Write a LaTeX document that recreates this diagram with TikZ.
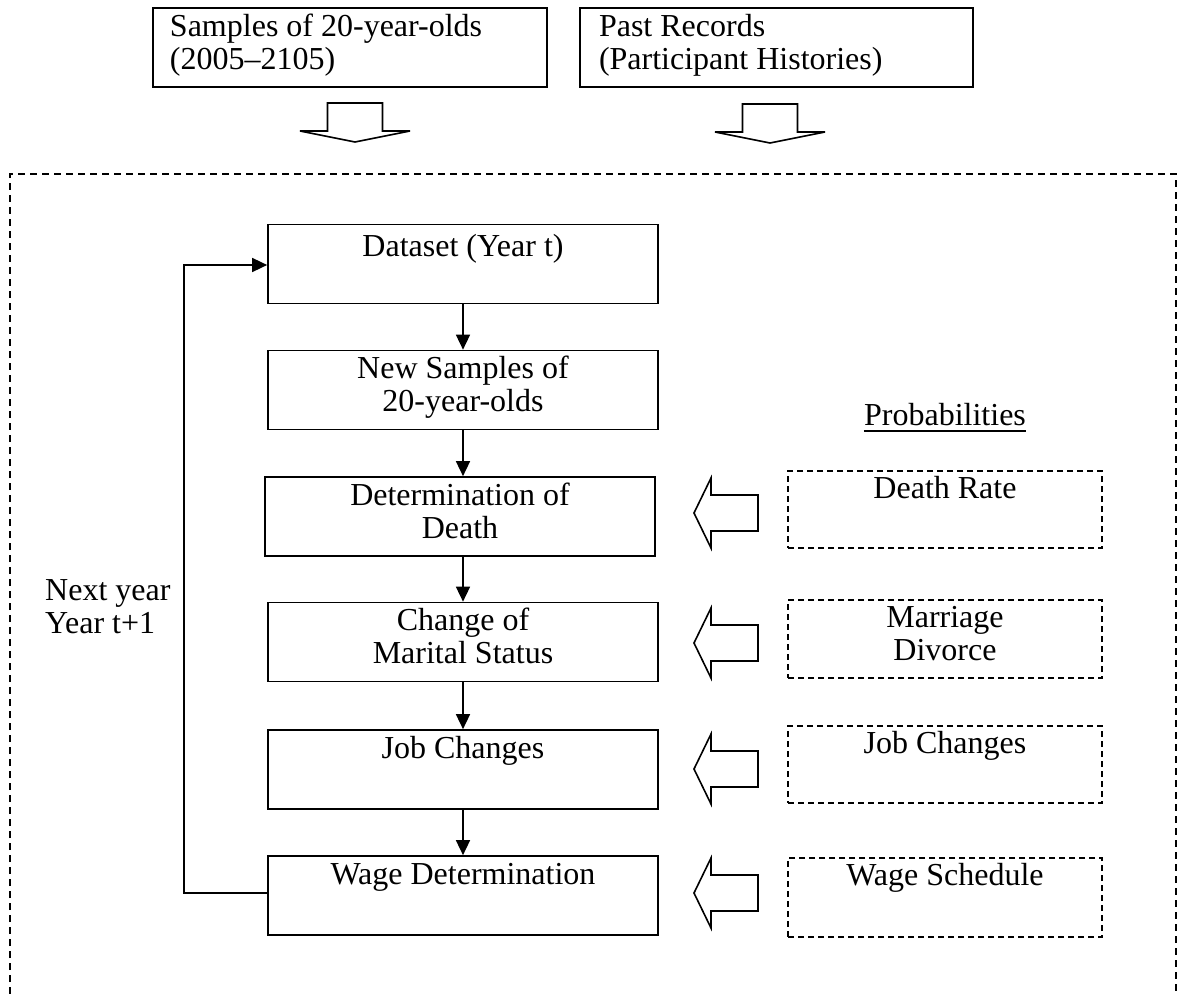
\documentclass[tikz,border=0pt]{standalone}
\usepackage{fontspec}
\setmainfont{Liberation Serif}
\usetikzlibrary{arrows.meta,calc}
\newcommand\ctrbox[4]{\parbox[c][#1][t]{#2}{\centering\rule{0pt}{#3}#4}}
\newcommand\lftbox[4]{\parbox[c][#1][t]{#2}{\raggedright\leftskip=#3\rule{0pt}{28bp}#4}}
\begin{document}
\begin{tikzpicture}[x=1bp,y=-1bp,
  every node/.style={font=\fontsize{32bp}{33bp}\selectfont, inner sep=0pt},
  mainbox/.style={draw, line width=1.7bp},
  dbox/.style={draw, line width=1.4bp, dash pattern=on 6bp off 4bp},
  conn/.style={line width=1.6bp, -{Triangle[length=15bp,width=14bp]}},
  blk/.style={draw, line width=1.6bp, line join=miter, fill=white},
  downblk/.pic={\draw[blk] (0,0) -- (55,-11) -- (27.5,-11) -- (27.5,-39) -- (-27.5,-39) -- (-27.5,-11) -- (-55,-11) -- cycle;},
  leftblk/.pic={\draw[blk] (0,0) -- (17,-35) -- (17,-18) -- (64,-18) -- (64,18) -- (17,18) -- (17,35) -- cycle;}]
\useasboundingbox (0,0) rectangle (1178,994);

% top input boxes
\node[mainbox] (samples) at (350,47.5) {\lftbox{79bp}{394bp}{17bp}{Samples of 20-year-olds\\(2005–2105)}};
\node[mainbox] (past) at (776.5,47.5) {\lftbox{79bp}{393bp}{19bp}{Past Records\\(Participant Histories)}};
\pic at (355,142) {downblk};
\pic at (770,143) {downblk};

% dashed frame (open at bottom)
\draw[line width=1.4bp, dash pattern=on 7bp off 5bp] (10,994) -- (10,174) -- (1176,174) -- (1176,994);

% main flow
\node[mainbox] (dataset) at (463,264) {\ctrbox{79bp}{390bp}{32bp}{Dataset (Year t)}};
\node[mainbox] (newsamp) at (463,390) {\ctrbox{79bp}{390bp}{28bp}{New Samples of\\20-year-olds}};
\node[mainbox] (det) at (460,516.5) {\ctrbox{79bp}{390bp}{28bp}{Determination of\\Death}};
\node[mainbox] (change) at (463,642) {\ctrbox{79bp}{390bp}{28bp}{Change of\\Marital Status}};
\node[mainbox] (job) at (463,769.5) {\ctrbox{79bp}{390bp}{28bp}{Job Changes}};
\node[mainbox] (wage) at (463,895.5) {\ctrbox{79bp}{390bp}{28bp}{Wage Determination}};

\draw[conn] (dataset.south) -- (newsamp.north);
\draw[conn] (newsamp.south) -- (newsamp.south |- det.north);
\draw[conn] (newsamp.south |- det.south) -- (change.north);
\draw[conn] (change.south) -- (job.north);
\draw[conn] (job.south) -- (wage.north);

% loop back
\coordinate (lb) at (184,893);
\coordinate (lt) at (184,265);
\draw[conn] (wage.west |- lb) -- (lb) -- (lt) -- (lt -| dataset.west);
\node[anchor=base west] (nexty) at (45,600) {\parbox[t]{150bp}{Next year\\Year t+1}};

% probabilities
\node[anchor=base] (prob) at (945,425.5) {Probabilities};
\draw[line width=1.6bp] ([yshift=-5.5bp]prob.base west) -- ([yshift=-5.5bp]prob.base east);

\node[dbox] (death) at (945,509.5) {\ctrbox{77bp}{314bp}{27bp}{Death Rate}};
\node[dbox] (marr) at (945,639) {\ctrbox{78bp}{314bp}{27bp}{Marriage\\Divorce}};
\node[dbox] (jobp) at (945,764.5) {\ctrbox{77bp}{314bp}{27bp}{Job Changes}};
\node[dbox] (wsched) at (945,897.5) {\ctrbox{79bp}{314bp}{27bp}{Wage Schedule}};

\pic at (694,513) {leftblk};
\pic at (694,643) {leftblk};
\pic at (694,769) {leftblk};
\pic at (694,893) {leftblk};
\end{tikzpicture}
\end{document}
